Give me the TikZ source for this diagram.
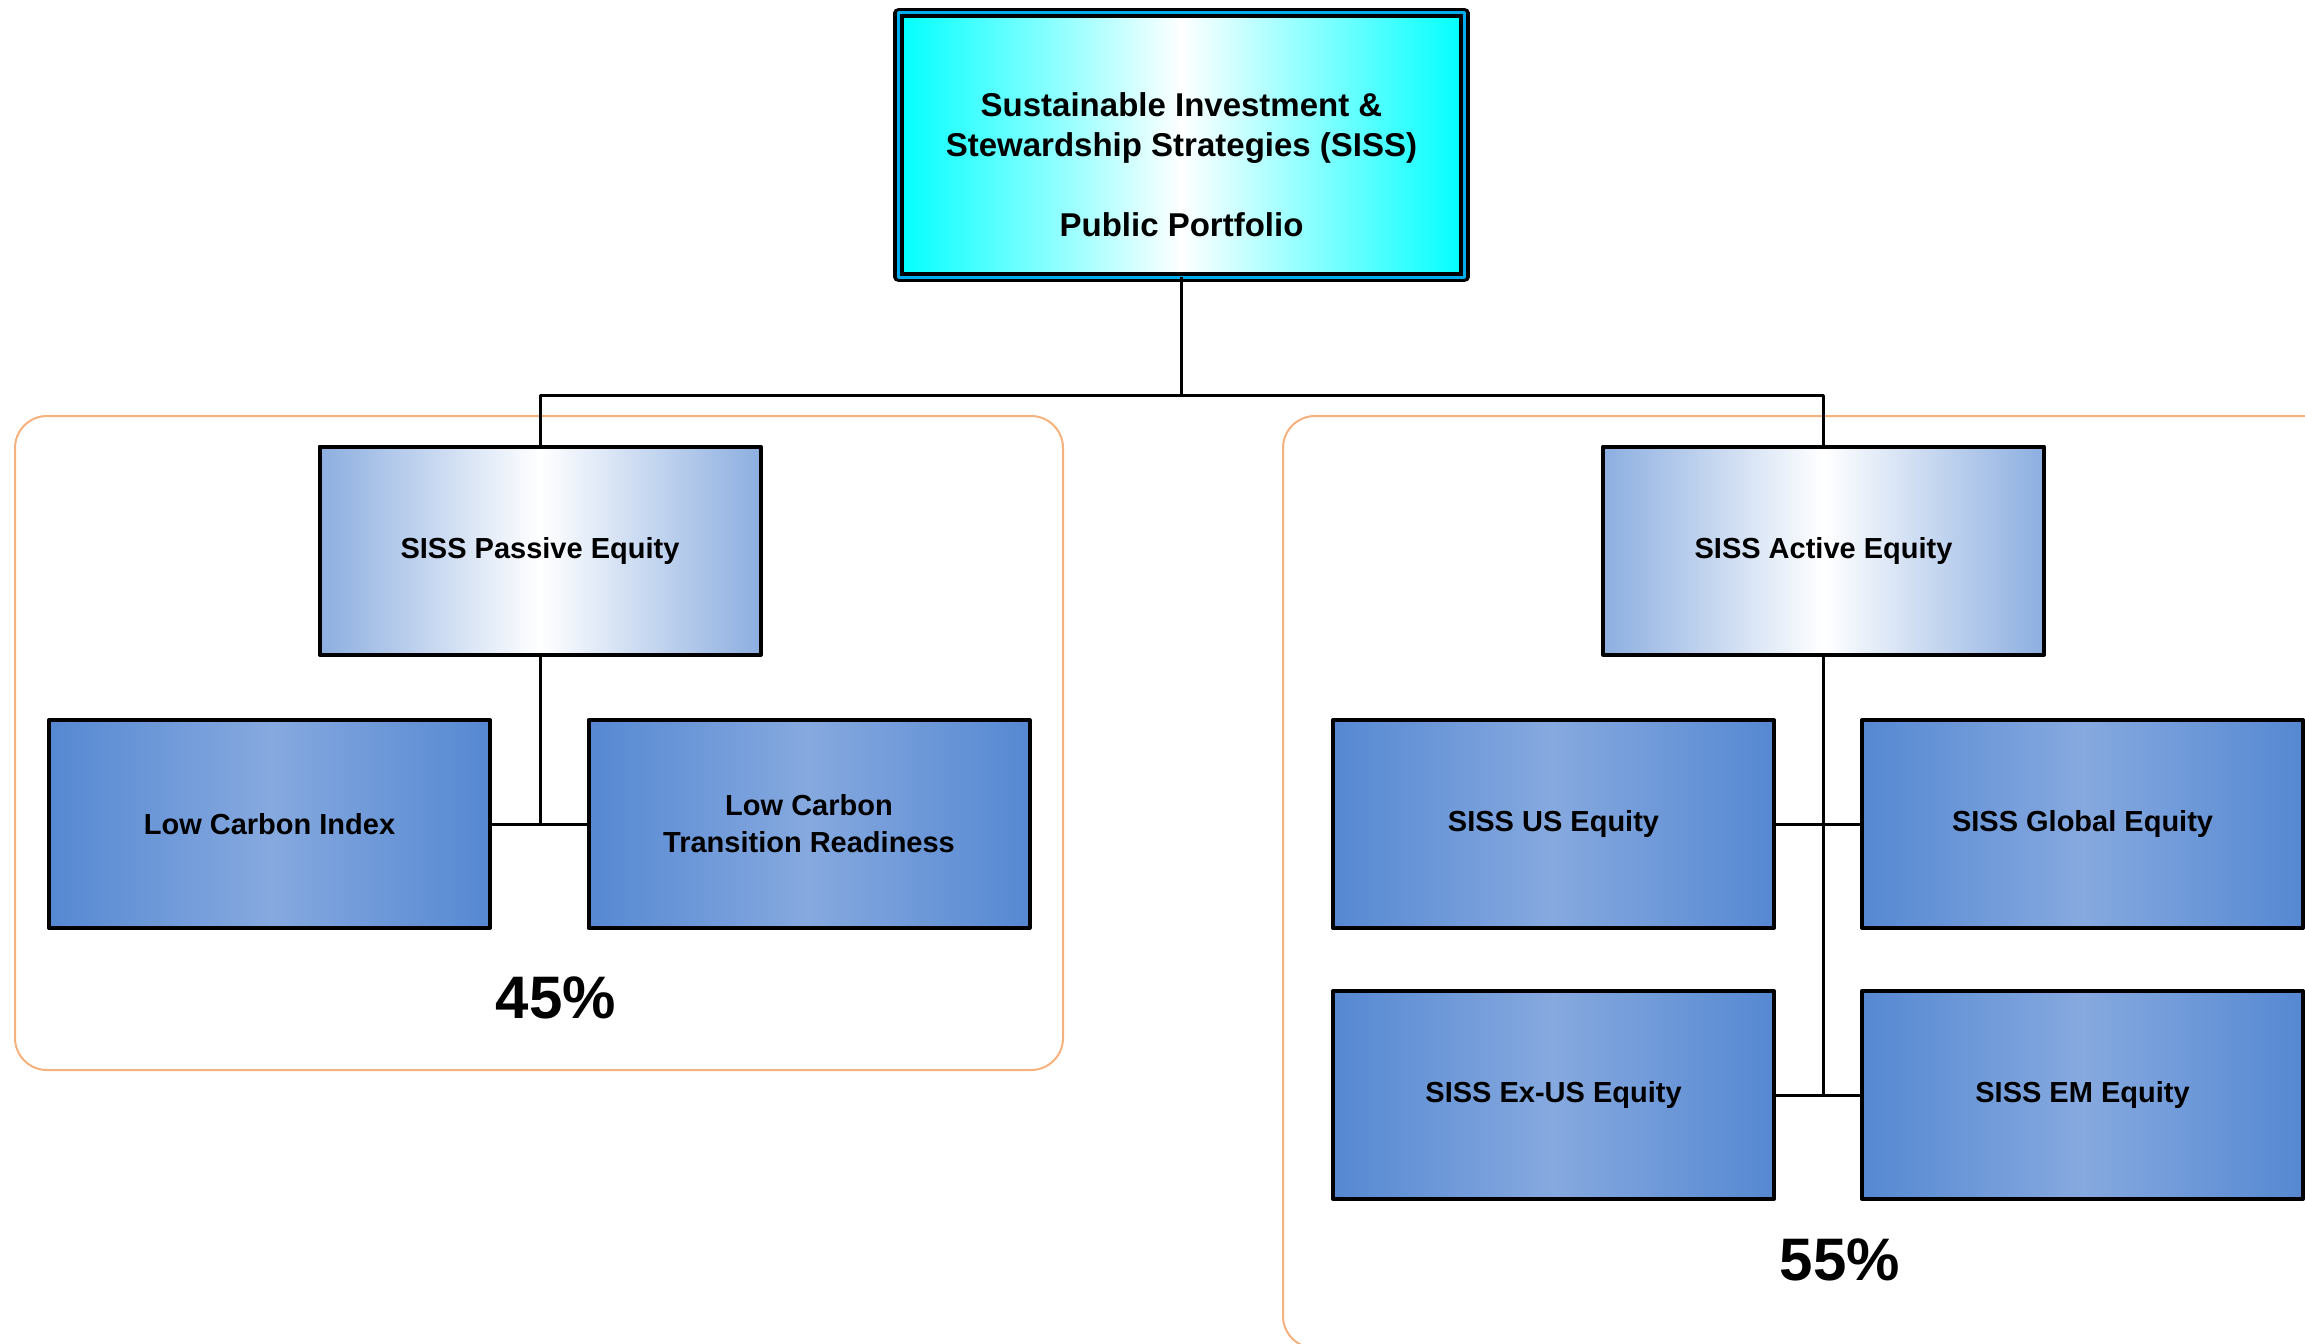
\documentclass[tikz,border=0pt]{standalone}
\usepackage{fontspec}
\setmainfont{Liberation Sans}
\definecolor{midblue}{HTML}{8CAEE0}
\definecolor{leafblue}{HTML}{5588D2}
\definecolor{leaflight}{HTML}{86A9DF}
\definecolor{grouporange}{HTML}{F6B27E}
\begin{document}
\begin{tikzpicture}[x=0.5pt,y=-0.5pt,line join=round,
	font=\bfseries\fontsize{14.5}{18.5}\selectfont,
	box/.style={draw,line width=2pt,minimum width=220.5pt,minimum height=104pt,inner sep=2pt,outer sep=0pt,align=center},
	midbox/.style={box,left color=midblue,right color=midblue,middle color=white},
	leafbox/.style={box,left color=leafblue,right color=leafblue,middle color=leaflight},
	link/.style={line width=1.5pt},
	group/.style={draw=grouporange,line width=1pt,rounded corners=16pt},
	share/.style={font=\bfseries\fontsize{30}{36}\selectfont}]
	\useasboundingbox (0,0) rectangle (2305,1343);
	\clip (0,0) rectangle (2305,1343);
	% groups
	\draw[group] (15,416) rectangle (1063,1070);
	\draw[group] (1283,416) rectangle (2400,1348);
	% top
	\node[draw,line width=1.8pt,double=cyan,double distance=1.5pt,left color=cyan,right color=cyan,middle color=white,
		minimum width=283pt,minimum height=132pt,outer sep=0pt,align=center,font=\bfseries\fontsize{16.5}{20}\selectfont]
		(siss) at (1181.5,145) {\rule{0pt}{12pt}\\Sustainable Investment \&\\Stewardship Strategies (SISS)\\\mbox{}\\Public Portfolio};
	% passive side
	\node[midbox] (passive) at (540,550.5) {SISS Passive Equity};
	\node[leafbox] (lci) at (269.5,824) {Low Carbon Index};
	\node[leafbox] (lct) at (809,824) {Low Carbon\\Transition Readiness};
	\node[share] (pshare) at (556,998) {45\%};
	% active side
	\node[midbox] (active) at (1823.5,550.5) {SISS Active Equity};
	\node[leafbox] (us) at (1553.5,824) {SISS US Equity};
	\node[leafbox] (global) at (2082.5,824) {SISS Global Equity};
	\node[leafbox] (exus) at (1553.5,1095) {SISS Ex-US Equity};
	\node[leafbox] (em) at (2082.5,1095) {SISS EM Equity};
	\node[share] (ashare) at (1840,1260) {55\%};
	% links
	\coordinate (bar) at (1181.5,395);
	\draw[link] (siss.south) -- (bar);
	\draw[link] (passive.north) |- (bar) -| (active.north);
	\draw[link] (passive.south) -- (passive.south |- lci.east);
	\draw[link] (lci.east) -- (lct.west);
	\draw[link] (active.south) -- (active.south |- exus.east);
	\draw[link] (us.east) -- (global.west);
	\draw[link] (exus.east) -- (em.west);
\end{tikzpicture}
\end{document}
